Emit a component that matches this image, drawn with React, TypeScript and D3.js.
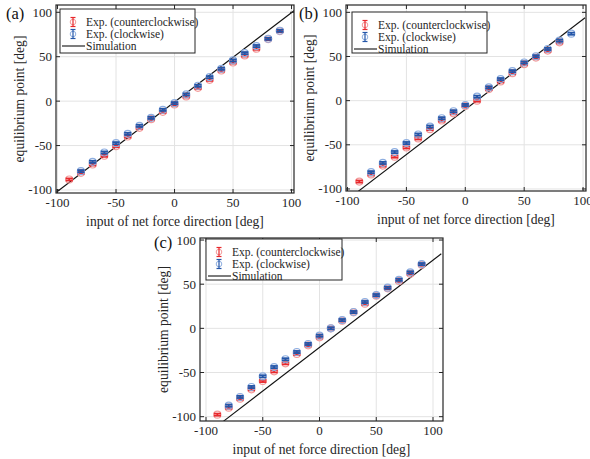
import React from 'react';
import * as d3 from 'd3';

// input of net force direction [deg]
const inputDir = [-90, -80, -70, -60, -50, -40, -30, -20, -10, 0, 10, 20, 30, 40, 50, 60, 70, 80, 90];
const ticks = [-100, -50, 0, 50, 100];

// (a)
const ccwA = [-88.2, -80.7, -71.3, -61.5, -50.7, -39.8, -30, -20.3, -12, -3.8, 5.3, 15, 24, 34.5, 43.5, 51.4, 59, 69.8, 78.8];
const cwA = [null, -78.8, -68.3, -57.8, -47.3, -36.8, -27.8, -18.8, -9.8, -2.3, 7.5, 17.3, 27, 36.4, 45.8, 54, 62, 70.2, 79.2];
const simAx = [-101, 104];
const simAy = [-102.5, 103.7];

// (b)
const ccwB = [-91.6, -83.5, -73.5, -63.4, -53, -42.8, -32.3, -22.5, -14.3, -6, 0, 13.1, 21.8, 31.1, 41.3, 48.8, 56.7, 66, null];
const cwB = [null, -81, -70.5, -58.2, -48, -38.3, -29.3, -19.9, -12, -4.9, 4.5, 15, 24.4, 33.4, 43.2, 50.3, 58.5, 68, 75.8];
const simBx = [-91.8, 101.7];
const simBy = [-103.6, 93.8];

// (c)
const ccwC = [-97.7, -89.8, -79.6, -69, -59.6, -48.7, -39.6, -29, -19.2, -10.2, 0, 8.7, 18.1, 27.9, 37, 45.3, 53.6, 61.9, 72];
const cwC = [null, -87.5, -77.7, -66.4, -54.3, -43.8, -35, -26.8, -17.7, -8.3, 0, 9.4, 18.5, 29.8, 37.7, 46, 55, 63.4, 72.8];
const simCx = [-84.8, 107.3];
const simCy = [-105.3, 84.5];

const errBar = 1.2;

const FONT = 'Liberation Serif, Times New Roman, serif';
const RED = '#e8282c';
const RED_L = '#f39a9a';
const BLUE = '#2456a8';
const BLUE_L = '#8eaee0';

type Box = { l: number; r: number; t: number; b: number };
type PanelProps = {
  id: string;
  label: string;
  frame: Box;
  xDom: [number, number];
  yDom: [number, number];
  ccw: (number | null)[];
  cw: (number | null)[];
  simX: number[];
  simY: number[];
  legend: { x: number; y: number; w: number; h: number };
  labelPos: { x: number; y: number };
};

function Marks({ xs, ys, x, y, color, light }: any) {
  return (
    <g>
      {xs.map((xv: number, i: number) => {
        const v = ys[i];
        if (v === null) return null;
        const cx = x(xv);
        const cy = y(v);
        const y1 = y(v - errBar);
        const y2 = y(v + errBar);
        return (
          <g key={i}>
            <circle cx={cx} cy={cy} r={3.5} fill="none" stroke={light} strokeWidth={1.2} />
            <line x1={cx} x2={cx} y1={y1} y2={y2} stroke={color} strokeWidth={1.8} />
            <line x1={cx - 3.6} x2={cx + 3.6} y1={y1} y2={y1} stroke={color} strokeWidth={1.8} />
            <line x1={cx - 3.6} x2={cx + 3.6} y1={y2} y2={y2} stroke={color} strokeWidth={1.8} />
          </g>
        );
      })}
    </g>
  );
}

function LegendIcon({ cx, cy, color, light }: any) {
  return (
    <g>
      <circle cx={cx} cy={cy} r={2.8} fill="none" stroke={light} strokeWidth={1} />
      <line x1={cx} x2={cx} y1={cy - 4.5} y2={cy + 4.5} stroke={color} strokeWidth={1.2} />
      <line x1={cx - 2.5} x2={cx + 2.5} y1={cy - 4.5} y2={cy - 4.5} stroke={color} strokeWidth={1.2} />
      <line x1={cx - 2.5} x2={cx + 2.5} y1={cy + 4.5} y2={cy + 4.5} stroke={color} strokeWidth={1.2} />
    </g>
  );
}

function Panel(p: PanelProps) {
  const { frame, legend } = p;
  const x = d3.scaleLinear().domain(p.xDom).range([frame.l, frame.r]);
  const y = d3.scaleLinear().domain(p.yDom).range([frame.b, frame.t]);
  const line = d3.line<number>().x((d) => x(d)).y((_, i) => y(p.simY[i]));
  const cxm = (frame.l + frame.r) / 2;
  const cym = (frame.t + frame.b) / 2;
  const tk = 4;
  return (
    <g style={{ fontFamily: FONT }} fill="#262626">
      <defs>
        <clipPath id={`clip-${p.id}`}>
          <rect x={frame.l} y={frame.t} width={frame.r - frame.l} height={frame.b - frame.t} />
        </clipPath>
      </defs>
      <rect x={frame.l} y={frame.t} width={frame.r - frame.l} height={frame.b - frame.t} fill="#fff" />
      {ticks.map((t) => (
        <g key={t} stroke="#e3e3e3" strokeWidth={1}>
          <line x1={x(t)} x2={x(t)} y1={frame.t} y2={frame.b} />
          <line x1={frame.l} x2={frame.r} y1={y(t)} y2={y(t)} />
        </g>
      ))}
      <g clipPath={`url(#clip-${p.id})`}>
        <path d={line(p.simX) || ''} fill="none" stroke="#111" strokeWidth={1.1} />
        <Marks xs={inputDir} ys={p.ccw} x={x} y={y} color={RED} light={RED_L} />
        <Marks xs={inputDir} ys={p.cw} x={x} y={y} color={BLUE} light={BLUE_L} />
      </g>
      {ticks.map((t) => (
        <g key={'t' + t} stroke="#262626" strokeWidth={1}>
          <line x1={x(t)} x2={x(t)} y1={frame.b} y2={frame.b - tk} />
          <line x1={x(t)} x2={x(t)} y1={frame.t} y2={frame.t + tk} />
          <line x1={frame.l} x2={frame.l + tk} y1={y(t)} y2={y(t)} />
          <line x1={frame.r} x2={frame.r - tk} y1={y(t)} y2={y(t)} />
        </g>
      ))}
      <rect x={frame.l} y={frame.t} width={frame.r - frame.l} height={frame.b - frame.t}
        fill="none" stroke="#262626" strokeWidth={1.2} />
      {ticks.map((t) => (
        <text key={'xl' + t} x={x(t)} y={frame.b + 14} textAnchor="middle" fontSize={13}>{t}</text>
      ))}
      {ticks.map((t) => (
        <text key={'yl' + t} x={frame.l - 4} y={y(t) + 4.5} textAnchor="end" fontSize={13}>{t}</text>
      ))}
      <text x={cxm} y={frame.b + 33} textAnchor="middle" fontSize={13.6}>input of net force direction [deg]</text>
      <text transform={`translate(${frame.l - 32},${cym}) rotate(-90)`} textAnchor="middle" fontSize={13.6}>
        equilibrium point [deg]
      </text>
      <text x={p.labelPos.x} y={p.labelPos.y} fontSize={16.5} fill="#111">{p.label}</text>
      <g>
        <rect x={legend.x} y={legend.y} width={legend.w} height={legend.h} fill="#fff" stroke="#262626" strokeWidth={1} />
        <LegendIcon cx={legend.x + 13} cy={legend.y + 13} color={RED} light={RED_L} />
        <LegendIcon cx={legend.x + 13} cy={legend.y + 25} color={BLUE} light={BLUE_L} />
        <line x1={legend.x + 2} x2={legend.x + 25} y1={legend.y + 37} y2={legend.y + 37} stroke="#111" strokeWidth={1.1} />
        <text x={legend.x + 26} y={legend.y + 17} fontSize={11.5}>Exp. (counterclockwise)</text>
        <text x={legend.x + 26} y={legend.y + 29} fontSize={11.5}>Exp. (clockwise)</text>
        <text x={legend.x + 26} y={legend.y + 41} fontSize={11.5}>Simulation</text>
      </g>
    </g>
  );
}

export default function App() {
  return (
    <svg width={590} height={459} style={{ position: 'absolute', left: 0, top: 0, background: '#fff' }}>
      <Panel id="a" label="(a)" frame={{ l: 56, r: 294, t: 5, b: 193 }} xDom={[-101.3, 102.1]} yDom={[-103.4, 108.2]}
        ccw={ccwA} cw={cwA} simX={simAx} simY={simAy}
        legend={{ x: 60, y: 9, w: 135, h: 44 }} labelPos={{ x: 6, y: 19 }} />
      <Panel id="b" label="(b)" frame={{ l: 346, r: 586, t: 5, b: 191 }} xDom={[-101.3, 102.5]} yDom={[-102.3, 108.3]}
        ccw={ccwB} cw={cwB} simX={simBx} simY={simBy}
        legend={{ x: 352, y: 12, w: 135, h: 41 }} labelPos={{ x: 299, y: 19 }} />
      <Panel id="c" label="(c)" frame={{ l: 200, r: 443, t: 238, b: 421 }} xDom={[-105.3, 108.8]} yDom={[-104.9, 102.3]}
        ccw={ccwC} cw={cwC} simX={simCx} simY={simCy}
        legend={{ x: 206, y: 239, w: 136, h: 41 }} labelPos={{ x: 154, y: 248 }} />
    </svg>
  );
}
